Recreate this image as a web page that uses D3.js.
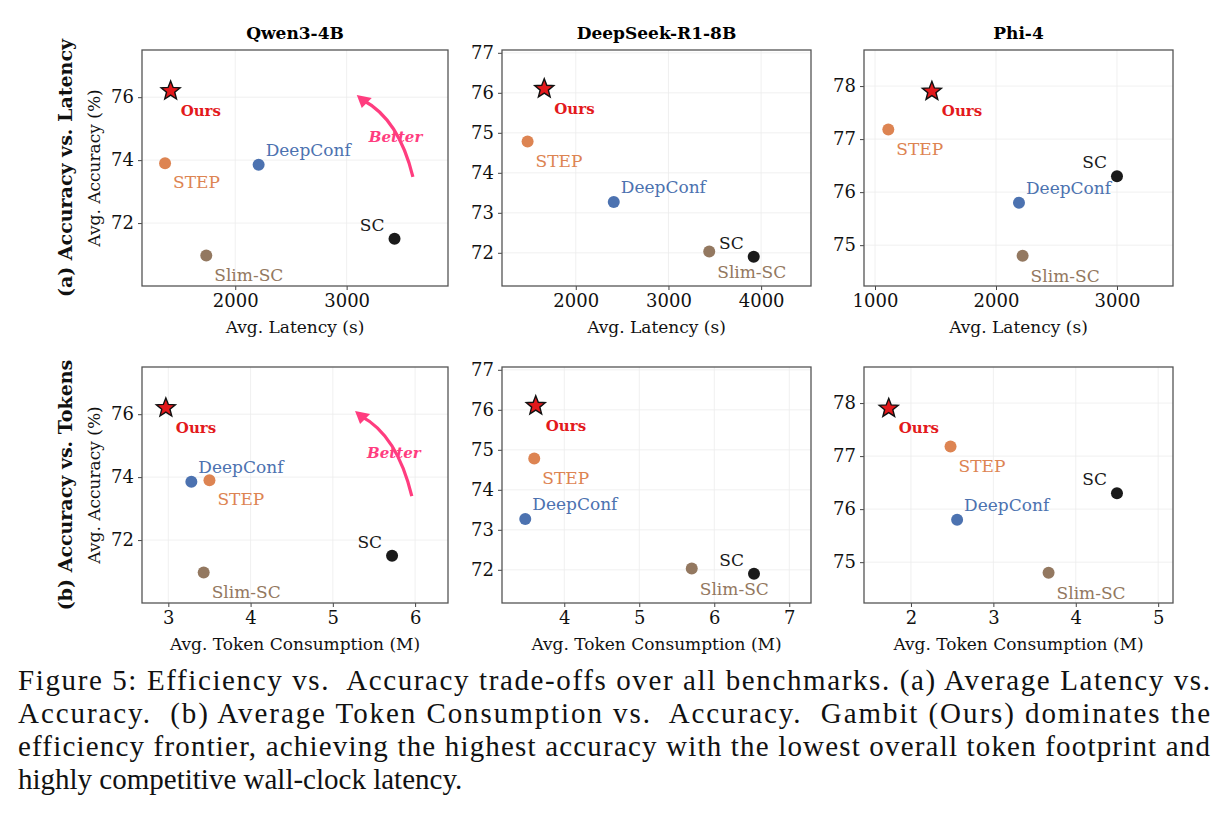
<!DOCTYPE html>
<html><head><meta charset="utf-8">
<script src="https://cdn.jsdelivr.net/npm/d3@7"></script>
<style>body{margin:0;background:#fff} svg text{font-family:"DejaVu Serif","Liberation Serif",serif}</style>
</head><body>
<svg id="fig" width="1226" height="837"></svg>
<script>
// data
var models = ['Qwen3-4B', 'DeepSeek-R1-8B', 'Phi-4']
var methods = ['Ours', 'STEP', 'DeepConf', 'SC', 'Slim-SC']
var accuracy = [
  [76.2, 73.9, 73.85, 71.5, 70.97],
  [76.1, 74.78, 73.27, 71.9, 72.03],
  [77.9, 77.18, 75.8, 76.3, 74.8]
]
var latency = [
  [1420, 1370, 2210, 3430, 1740],
  [1660, 1480, 2410, 3920, 3440],
  [1470, 1110, 2190, 3000, 2220]
]
var tokens = [
  [2.97, 3.5, 3.28, 5.72, 3.43],
  [3.62, 3.6, 3.48, 6.53, 5.7],
  [1.73, 2.48, 2.56, 4.5, 3.67]
]
var yDomains = [[70.0, 77.5], [71.17, 77.07], [74.23, 78.68]]
var latDomains = [[1163, 3910], [1204, 4538], [909, 3463]]
var tokDomains = [[2.68, 6.4], [3.17, 7.29], [1.43, 5.18]]
var yTicks = [[72, 74, 76], [72, 73, 74, 75, 76, 77], [75, 76, 77, 78]]
var latTicks = [[2000, 3000], [2000, 3000, 4000], [1000, 2000, 3000]]
var tokTicks = [[3, 4, 5, 6], [4, 5, 6, 7], [2, 3, 4, 5]]
// "Better" arrow in data coords (Qwen panels): tail, head
var arrowLat = [[3595, 73.47], [3091, 76.07]]
var arrowTok = [[5.96, 73.4], [5.27, 76.1]]

var colors = {'Ours': '#e3191c', 'STEP': '#dd8452', 'DeepConf': '#4c72b0', 'SC': '#1a1a1a', 'Slim-SC': '#937860'}
var labelOff = {'Ours': [10, 25, 'start'], 'STEP': [8, 25, 'start'], 'DeepConf': [7, -9, 'start'], 'SC': [-10, -8, 'end'], 'Slim-SC': [8, 26, 'start']}

var svg = d3.select('#fig')
var serif = '"DejaVu Serif", "Liberation Serif", serif'
var colX = [[142, 448], [502, 811], [864, 1173]]
var rowY = [[50, 286], [367, 603]]
var rows = [
  {xs: latency, dom: latDomains, ticks: latTicks, xlabel: 'Avg. Latency (s)', rlabel: '(a) Accuracy vs. Latency', arrow: arrowLat},
  {xs: tokens, dom: tokDomains, ticks: tokTicks, xlabel: 'Avg. Token Consumption (M)', rlabel: '(b) Accuracy vs. Tokens', arrow: arrowTok}
]

function star(cx, cy, ro, ri){
  var p = []
  for (var i = 0; i < 10; i++){
    var r = i % 2 ? ri : ro, a = -Math.PI/2 + i*Math.PI/5
    p.push([cx + r*Math.cos(a), cy + r*Math.sin(a)])
  }
  return 'M' + p.join('L') + 'Z'
}

rows.forEach(function(row, ri){
  var y0 = rowY[ri][0], y1 = rowY[ri][1]
  models.forEach(function(m, ci){
    var x0 = colX[ci][0], x1 = colX[ci][1]
    var x = d3.scaleLinear().domain(row.dom[ci]).range([x0, x1])
    var y = d3.scaleLinear().domain(yDomains[ci]).range([y1, y0])
    var g = svg.append('g')

    // grid
    g.selectAll('.gx').data(row.ticks[ci]).enter().append('line')
      .attr('x1', d => x(d)).attr('x2', d => x(d)).attr('y1', y0).attr('y2', y1)
      .attr('stroke', '#ececec').attr('stroke-width', 0.8)
    g.selectAll('.gy').data(yTicks[ci]).enter().append('line')
      .attr('x1', x0).attr('x2', x1).attr('y1', d => y(d)).attr('y2', d => y(d))
      .attr('stroke', '#ececec').attr('stroke-width', 0.8)

    var ax = g.append('g').attr('transform', 'translate(0,' + y1 + ')')
      .call(d3.axisBottom(x).tickValues(row.ticks[ci]).tickFormat(d3.format('d')).tickSize(4).tickPadding(4).tickSizeOuter(0))
    var ay = g.append('g').attr('transform', 'translate(' + x0 + ',0)')
      .call(d3.axisLeft(y).tickValues(yTicks[ci]).tickFormat(d3.format('d')).tickSize(4).tickPadding(4).tickSizeOuter(0))
    ;[ax, ay].forEach(function(a){
      a.attr('font-family', null)
      a.select('.domain').remove()
      a.selectAll('text').attr('font-size', 18).attr('fill', '#111')
      a.selectAll('line').attr('stroke', '#444')
    })
    g.append('rect').attr('x', x0).attr('y', y0).attr('width', x1 - x0).attr('height', y1 - y0)
      .attr('fill', 'none').attr('stroke', '#555').attr('stroke-width', 1.3)

    g.append('text').attr('x', (x0 + x1)/2).attr('y', y1 + 47).attr('text-anchor', 'middle')
      .attr('font-size', 17).attr('fill', '#111').text(row.xlabel)
    if (ri === 0){
      g.append('text').attr('x', (x0 + x1)/2).attr('y', 39).attr('text-anchor', 'middle')
        .attr('font-weight', 'bold').attr('font-size', 17).text(m)
    }
    if (ci === 0){
      var cy = (y0 + y1)/2
      g.append('text').attr('transform', 'translate(100,' + cy + ') rotate(-90)').attr('text-anchor', 'middle')
        .attr('font-size', 17).attr('fill', '#111').text('Avg. Accuracy (%)')
      g.append('text').attr('transform', 'translate(72,' + cy + ') rotate(-90)').attr('text-anchor', 'middle')
        .attr('font-weight', 'bold').attr('font-size', 19).attr('fill', '#111').text(row.rlabel)

      // Better arrow
      var t = [x(row.arrow[0][0]), y(row.arrow[0][1])], h = [x(row.arrow[1][0]), y(row.arrow[1][1])]
      var c = [h[0] + 42, h[1] + 24]
      g.append('path').attr('d', 'M' + t + 'Q' + c + ' ' + [h[0] + 6, h[1] + 5])
        .attr('fill', 'none').attr('stroke', '#ff3d7f').attr('stroke-width', 3.2)
      g.append('path').attr('d', 'M' + h + 'L' + [h[0] + 15, h[1] + 3] + 'L' + [h[0] + 5, h[1] + 13] + 'Z')
        .attr('fill', '#ff3d7f')
      g.append('text').attr('x', h[0] + 12).attr('y', h[1] + 47)
        .attr('font-weight', 'bold').attr('font-style', 'italic')
        .attr('font-size', 15).attr('fill', '#ff3d7f').text('Better')
    }

    methods.forEach(function(me, k){
      var px = x(row.xs[ci][k]), py = y(accuracy[ci][k])
      if (me === 'Ours'){
        g.append('path').attr('d', star(px, py, 10, 4.3)).attr('fill', '#e3191c')
          .attr('stroke', '#111').attr('stroke-width', 1.4)
      } else {
        g.append('circle').attr('cx', px).attr('cy', py).attr('r', 6).attr('fill', colors[me])
      }
      var o = labelOff[me]
      g.append('text').attr('x', px + o[0]).attr('y', py + o[1]).attr('text-anchor', o[2])
        .attr('font-size', me === 'Ours' ? 15 : 17)
        .attr('font-weight', me === 'Ours' ? 'bold' : 'normal')
        .attr('fill', colors[me]).text(me)
    })
  })
})

var caption = [
  'Figure 5: Efficiency vs.  Accuracy trade-offs over all benchmarks. (a) Average Latency vs.',
  'Accuracy.  (b) Average Token Consumption vs.  Accuracy.  Gambit (Ours) dominates the',
  'efficiency frontier, achieving the highest accuracy with the lowest overall token footprint and',
  'highly competitive wall-clock latency.'
]
svg.selectAll('.cap').data(caption).enter().append('text')
  .attr('x', 18).attr('y', (d, i) => 690 + i*33)
  .style('font-family', '"Liberation Serif", serif').attr('font-size', 29).attr('fill', '#111')
  .attr('textLength', (d, i) => i < 3 ? 1192 : null)
  .attr('lengthAdjust', 'spacing')
  .attr('xml:space', 'preserve')
  .text(d => d)
</script>
</body></html>
